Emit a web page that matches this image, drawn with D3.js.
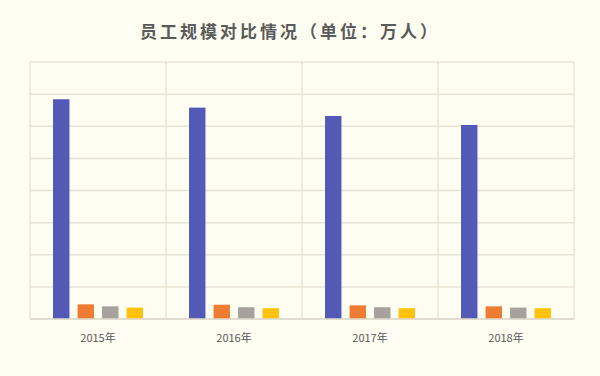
<!DOCTYPE html>
<html>
<head>
<meta charset="utf-8">
<script src="https://cdn.jsdelivr.net/npm/d3@7"></script>
<style>
    body { margin: 0; background: #fdfdf1; }
    svg { display: block; }
</style>
</head>
<body>
<svg id="chart"></svg>
<script>
// chart data (万人)
var years = ['2015年', '2016年', '2017年', '2018年'];
var series1 = [34.2, 32.9, 31.6, 30.2];
var series2 = [2.28, 2.22, 2.12, 1.97];
var series3 = [1.97, 1.83, 1.83, 1.77];
var series4 = [1.77, 1.68, 1.68, 1.68];
var gridTicks = [0, 5, 10, 15, 20, 25, 30, 35, 40];

var colors = ['#5259b7', '#ee7d31', '#a7a29b', '#fdc209'];
var allSeries = [series1, series2, series3, series4];

var width = 600, height = 376;
var margin = { top: 62, right: 26, bottom: 57, left: 30 };
var innerW = width - margin.left - margin.right;
var innerH = height - margin.top - margin.bottom;

var svg = d3.select('#chart')
    .attr('width', width)
    .attr('height', height);

svg.append('rect')
    .attr('width', width)
    .attr('height', height)
    .attr('fill', '#fdfdf1');

// title
svg.append('text')
    .text('员工规模对比情况（单位：万人）')
    .attr('x', 290)
    .attr('y', 38)
    .attr('text-anchor', 'middle')
    .attr('font-family', '"Noto Sans CJK SC", sans-serif')
    .attr('font-weight', 'bold')
    .attr('font-size', '17px')
    .attr('letter-spacing', '3px')
    .attr('fill', '#5a5a58');

var g = svg.append('g')
    .attr('transform', 'translate(' + margin.left + ',' + margin.top + ')');

// scales
var x0 = d3.scaleBand()
    .domain(years)
    .range([0, innerW]);

var x1 = d3.scaleBand()
    .domain(d3.range(allSeries.length))
    .range([0, x0.bandwidth()])
    .paddingInner(0.33)
    .paddingOuter(0.94);

var y = d3.scaleLinear()
    .domain([0, 40])
    .range([innerH, 0]);

// horizontal grid lines
g.append('g')
    .selectAll('line')
    .data(gridTicks)
    .enter()
    .append('line')
    .attr('x1', 0)
    .attr('x2', innerW)
    .attr('y1', function (d) { return y(d); })
    .attr('y2', function (d) { return y(d); })
    .attr('stroke', '#e8e4d6')
    .attr('stroke-width', 1.5);

// vertical category separators
g.append('g')
    .selectAll('line')
    .data(years.concat(['end']))
    .enter()
    .append('line')
    .attr('x1', function (d, i) { return i * x0.step(); })
    .attr('x2', function (d, i) { return i * x0.step(); })
    .attr('y1', 0)
    .attr('y2', innerH)
    .attr('stroke', '#e8e4d6')
    .attr('stroke-width', 1.5);

// bars
var groups = g.selectAll('.year')
    .data(years)
    .enter()
    .append('g')
    .attr('class', 'year')
    .attr('transform', function (d) { return 'translate(' + x0(d) + ',0)'; });

groups.selectAll('rect')
    .data(function (d, i) { return allSeries.map(function (s, k) { return { k: k, v: s[i] }; }); })
    .enter()
    .append('rect')
    .attr('x', function (d) { return x1(d.k); })
    .attr('y', function (d) { return y(d.v); })
    .attr('width', x1.bandwidth())
    .attr('height', function (d) { return innerH - y(d.v); })
    .attr('fill', function (d) { return colors[d.k]; });

// baseline
g.append('line')
    .attr('x1', 0)
    .attr('x2', innerW)
    .attr('y1', innerH)
    .attr('y2', innerH)
    .attr('stroke', '#dcd8cc')
    .attr('stroke-width', 1.5);

// x axis labels
var xAxis = d3.axisBottom(x0).tickSize(0).tickPadding(15);
var ax = g.append('g')
    .attr('transform', 'translate(0,' + innerH + ')')
    .call(xAxis);
ax.select('.domain').remove();
ax.selectAll('text')
    .attr('font-family', '"Noto Sans CJK SC", sans-serif')
    .attr('font-size', '11px')
    .attr('fill', '#595959');
</script>
</body>
</html>
